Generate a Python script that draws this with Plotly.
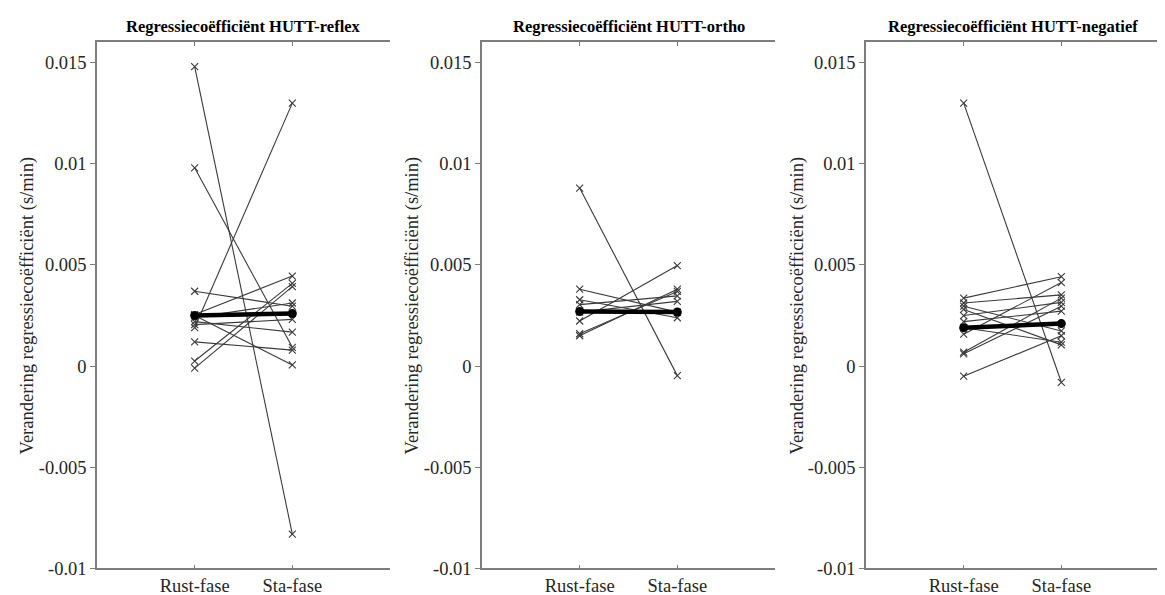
import plotly.graph_objects as go

W, H = 1165, 595

phases = ["Rust-fase", "Sta-fase"]
phase_pos = [1, 2]

titles = [
    "Regressiecoëfficiënt HUTT-reflex",
    "Regressiecoëfficiënt HUTT-ortho",
    "Regressiecoëfficiënt HUTT-negatief",
]
ylabel = "Verandering regressiecoëfficiënt (s/min)"

y_ticks = [-0.01, -0.005, 0, 0.005, 0.01, 0.015]
y_ticktext = ["-0.01", "-0.005", "0", "0.005", "0.01", "0.015"]
y_range = [-0.01, 0.016]

# HUTT-reflex: per subject (rust, sta)
reflex_rust = [0.0148, 0.0098, 0.0037, 0.00255, 0.0025, 0.0024, 0.0022, 0.00205, 0.0019, 0.0012, 0.00025, -0.0001]
reflex_sta = [-0.0083, 0.00093, 0.00296, 0.00445, 0.00006, 0.00312, 0.00168, 0.00231, 0.013, 0.00079, 0.00409, 0.00393]
reflex_summary = [0.0025, 0.0026]

# HUTT-ortho
ortho_rust = [0.0088, 0.0038, 0.00328, 0.00304, 0.00267, 0.00223, 0.0016, 0.0015]
ortho_sta = [-0.00047, 0.00267, 0.00239, 0.00347, 0.0032, 0.00497, 0.00369, 0.0038]
ortho_summary = [0.0027, 0.00267]

# HUTT-negatief
neg_rust = [0.013, 0.00336, 0.00312, 0.00296, 0.0028, 0.0025, 0.0022, 0.0019, 0.00158, 0.00069, 0.00061, -0.0005]
neg_sta = [-0.0008, 0.00442, 0.00352, 0.00174, 0.00105, 0.00315, 0.00272, 0.00118, 0.00413, 0.00336, 0.00296, 0.0015]
neg_summary = [0.0019, 0.0021]

panels = [
    (reflex_rust, reflex_sta, reflex_summary),
    (ortho_rust, ortho_sta, ortho_summary),
    (neg_rust, neg_sta, neg_summary),
]

# layout geometry (pixels)
x_px = [(89, 382), (474, 767), (858, 1151)]
top_px, bot_px = 35, 570
ylab_px = [19, 404, 789]

FONT = "Liberation Serif"
TXT = "#262626"
AX = "#7d7d7d"
FS = 18.5

fig = go.Figure()

for i, (rust, sta, summ) in enumerate(panels):
    sfx = "" if i == 0 else str(i + 1)
    for r, s in zip(rust, sta):
        fig.add_trace(go.Scatter(
            x=phase_pos, y=[r, s], mode="lines+markers",
            line=dict(color="#3a3a3a", width=1.1),
            marker=dict(symbol="x-thin", size=7, line=dict(color="#3a3a3a", width=1.1)),
            xaxis="x" + sfx, yaxis="y" + sfx, showlegend=False, hoverinfo="skip",
        ))
    fig.add_trace(go.Scatter(
        x=phase_pos, y=summ, mode="lines+markers",
        line=dict(color="black", width=4.5),
        marker=dict(symbol="circle", size=9, color="black"),
        xaxis="x" + sfx, yaxis="y" + sfx, showlegend=False, hoverinfo="skip",
    ))

layout = dict(
    width=W, height=H, margin=dict(l=0, r=0, t=0, b=0),
    paper_bgcolor="white", plot_bgcolor="white",
    font=dict(family=FONT, size=FS, color=TXT),
    annotations=[],
)

ydom = [1 - bot_px / H, 1 - top_px / H]
for i in range(3):
    sfx = "" if i == 0 else str(i + 1)
    xdom = [x_px[i][0] / W, x_px[i][1] / W]
    layout["xaxis" + sfx] = dict(
        domain=xdom, range=[0, 3], anchor="y" + sfx,
        tickvals=phase_pos, ticktext=phases,
        ticks="inside", ticklen=4, tickcolor=AX, tickwidth=1,
        showline=True, linecolor=AX, linewidth=1.5, mirror="ticks",
        showgrid=False, zeroline=False, fixedrange=True,
        tickfont=dict(family=FONT, size=FS, color=TXT),
    )
    layout["yaxis" + sfx] = dict(
        domain=ydom, range=y_range, anchor="x" + sfx,
        tickvals=y_ticks, ticktext=y_ticktext,
        ticks="outside", ticklen=5, tickcolor=AX, tickwidth=1,
        showline=True, linecolor=AX, linewidth=1.5, mirror=False,
        showgrid=False, zeroline=False, fixedrange=True,
        tickfont=dict(family=FONT, size=FS, color=TXT),
    )
    layout["yaxis" + str(i + 4)] = dict(
        overlaying="y" + sfx, side="right", anchor="x" + sfx,
        range=y_range, tickvals=y_ticks,
        ticks="inside", ticklen=5, tickcolor=AX, tickwidth=1,
        showticklabels=False,
        showline=True, linecolor=AX, linewidth=1.5,
        showgrid=False, zeroline=False, fixedrange=True,
    )
    layout["annotations"].append(dict(
        text="<b>" + titles[i] + "</b>", xref="paper", yref="paper",
        x=(x_px[i][0] + x_px[i][1]) / 2 / W, y=1 - 19 / H,
        xanchor="center", yanchor="middle", showarrow=False,
        font=dict(family=FONT, size=16.5, color="black"),
    ))
    layout["annotations"].append(dict(
        text=ylabel, xref="paper", yref="paper",
        x=ylab_px[i] / W, y=1 - ((top_px + bot_px) / 2) / H,
        xanchor="center", yanchor="middle", textangle=-90, showarrow=False,
        font=dict(family=FONT, size=FS, color=TXT),
    ))

fig.update_layout(**layout)
fig.write_html("out.html")
